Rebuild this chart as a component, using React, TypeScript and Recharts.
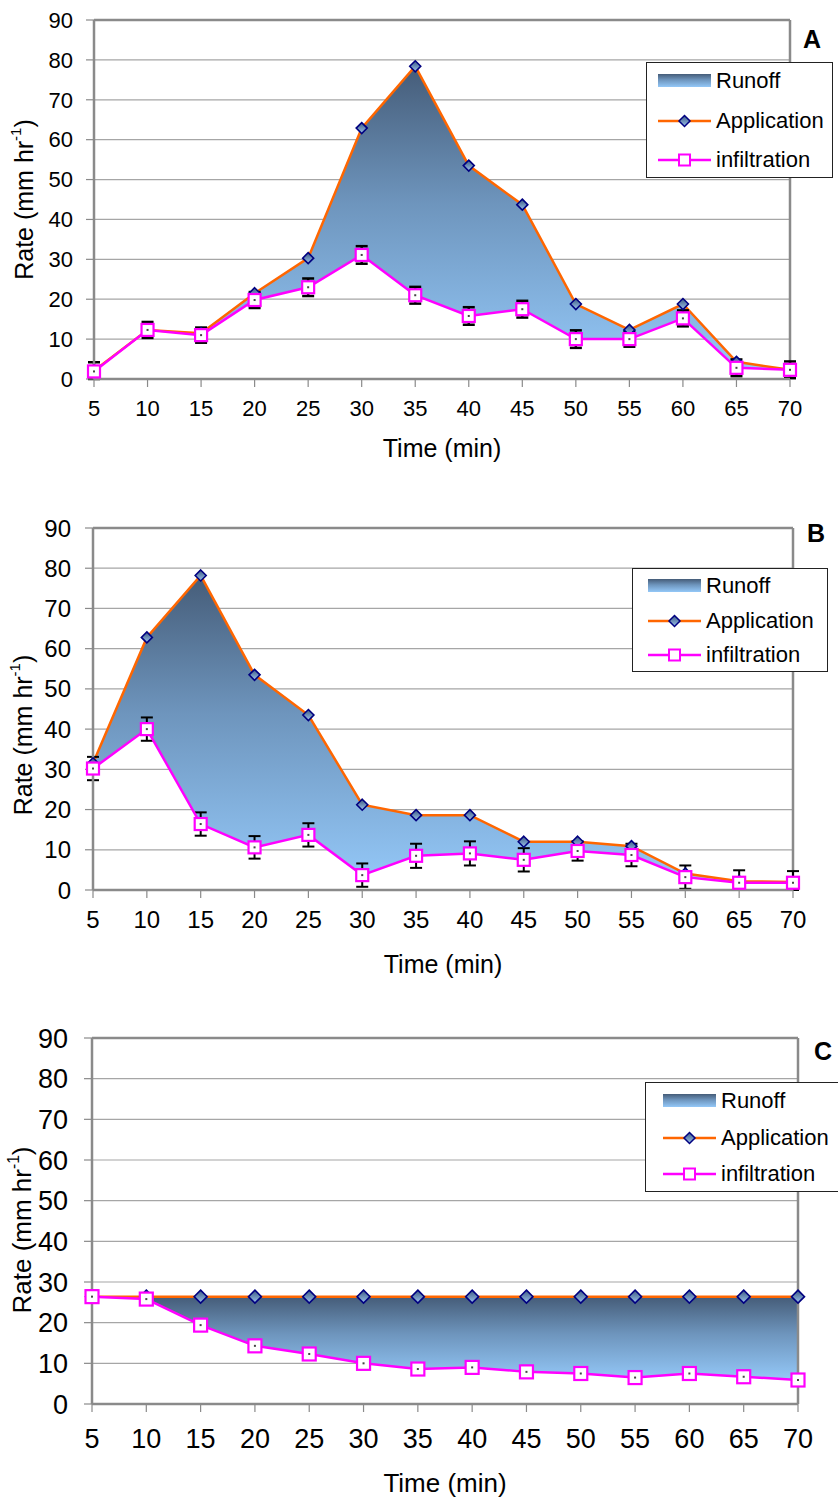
import React from 'react'
import {
  Area,
  CartesianGrid,
  ComposedChart,
  ErrorBar,
  Line,
  ReferenceLine,
  XAxis,
  YAxis,
} from 'recharts'

const FONT = '"Liberation Sans", Arial, Helvetica, sans-serif'

const times = [5, 10, 15, 20, 25, 30, 35, 40, 45, 50, 55, 60, 65, 70]
const yTicks = [0, 10, 20, 30, 40, 50, 60, 70, 80, 90]

// panel A
const applicationA = [2.1, 12.3, 11.5, 21.5, 30.3, 62.9, 78.4, 53.5, 43.7, 18.8, 12.3, 18.8, 4.3, 2.3]
const infiltrationA = [1.9, 12.3, 11.0, 19.8, 23.0, 31.1, 21.0, 15.8, 17.5, 10.0, 10.0, 15.2, 2.8, 2.3]
const errorA = [2.3, 2.0, 1.9, 2.0, 2.2, 2.2, 2.1, 2.2, 2.1, 2.2, 1.9, 2.0, 2.1, 2.1]

// panel B
const applicationB = [31.5, 62.8, 78.2, 53.5, 43.5, 21.2, 18.6, 18.6, 12.0, 12.0, 10.9, 4.1, 2.2, 2.0]
const infiltrationB = [30.2, 40.0, 16.4, 10.6, 13.7, 3.7, 8.5, 9.1, 7.5, 9.7, 8.7, 3.2, 1.8, 1.8]
const errorB = [2.9, 2.9, 2.9, 2.8, 2.9, 2.9, 3.0, 3.0, 2.9, 2.4, 2.8, 2.9, 3.1, 2.9]

// panel C
const applicationC = [26.4, 26.4, 26.4, 26.4, 26.4, 26.4, 26.4, 26.4, 26.4, 26.4, 26.4, 26.4, 26.4, 26.4]
const infiltrationC = [26.4, 25.8, 19.4, 14.3, 12.3, 10.0, 8.6, 9.0, 7.9, 7.5, 6.5, 7.5, 6.7, 5.9]
const errorC = [1.4, 1.4, 1.4, 1.4, 1.4, 1.4, 1.4, 1.4, 1.4, 1.4, 1.4, 1.4, 1.4, 1.4]

const ORANGE = '#ff6600'
const MAGENTA = '#ff00ff'
const GRID = '#a6a6a6'
const FRAME = '#8a8a8a'

type Panel = {
  id: string
  letter: string
  application: number[]
  infiltration: number[]
  error: number[]
  top: number
  height: number
  margin: { top: number; right: number; bottom: number; left: number }
  yAxisWidth: number
  tickFont: number
  yTickMargin: number
  xTickMargin: number
  titleFont: number
  xTitleDy: number
  yTitleX: number
  yTitleDy: number
  letterX: number
  letterY: number
  diamond: number
  square: number
  errWidth: number
  legend: {
    left: number
    top: number
    width: number
    height: number
    rows: number[]
    swatch: number
    text: number
  }
}

const panels: Panel[] = [
  {
    id: 'a',
    letter: 'A',
    application: applicationA,
    infiltration: infiltrationA,
    error: errorA,
    top: 0,
    height: 470,
    margin: { top: 20, right: 48, bottom: 31, left: 0 },
    yAxisWidth: 94,
    tickFont: 22,
    yTickMargin: 13,
    xTickMargin: 13,
    titleFont: 25,
    xTitleDy: 78,
    yTitleX: 24,
    yTitleDy: 0,
    letterX: 812,
    letterY: 48,
    diamond: 5.5,
    square: 12,
    errWidth: 2.5,
    legend: { left: 646, top: 62, width: 187, height: 116, rows: [18, 58, 97], swatch: 11, text: 69 },
  },
  {
    id: 'b',
    letter: 'B',
    application: applicationB,
    infiltration: infiltrationB,
    error: errorB,
    top: 490,
    height: 500,
    margin: { top: 38, right: 45, bottom: 40, left: 0 },
    yAxisWidth: 93,
    tickFont: 24,
    yTickMargin: 14,
    xTickMargin: 13,
    titleFont: 25,
    xTitleDy: 83,
    yTitleX: 23,
    yTitleDy: 26,
    letterX: 816,
    letterY: 542,
    diamond: 5.5,
    square: 12,
    errWidth: 2,
    legend: { left: 632, top: 568, width: 196, height: 104, rows: [17, 52, 86], swatch: 15, text: 73 },
  },
  {
    id: 'c',
    letter: 'C',
    application: applicationC,
    infiltration: infiltrationC,
    error: errorC,
    top: 1000,
    height: 500,
    margin: { top: 38, right: 40, bottom: 36, left: 0 },
    yAxisWidth: 92,
    tickFont: 27,
    yTickMargin: 16,
    xTickMargin: 17,
    titleFont: 26,
    xTitleDy: 88,
    yTitleX: 22,
    yTitleDy: 9,
    letterX: 823,
    letterY: 1060,
    diamond: 6.5,
    square: 13,
    errWidth: 2.5,
    legend: { left: 645, top: 1082, width: 200, height: 110, rows: [18, 55, 91], swatch: 17, text: 75 },
  },
]

function RunoffGradient({ id }: { id: string }) {
  return (
    <linearGradient id={id} x1="0" y1="0" x2="0" y2="1">
      <stop offset="0%" stopColor="#455c78" />
      <stop offset="45%" stopColor="#6e95bd" />
      <stop offset="100%" stopColor="#94c8f8" />
    </linearGradient>
  )
}

function DiamondGradient({ id }: { id: string }) {
  return (
    <linearGradient id={id} x1="0" y1="0" x2="0" y2="1">
      <stop offset="0%" stopColor="#3c5a84" />
      <stop offset="100%" stopColor="#9cc3ec" />
    </linearGradient>
  )
}

function Legend({ p }: { p: Panel }) {
  const lg = p.legend
  const rowStyle = (y: number): React.CSSProperties => ({
    position: 'absolute',
    left: 0,
    top: y - 14,
    height: 28,
    width: '100%',
  })
  return (
    <div
      style={{
        position: 'absolute',
        left: lg.left,
        top: lg.top - p.top,
        width: lg.width,
        height: lg.height,
        border: '1.5px solid #222',
        background: '#fff',
        boxSizing: 'border-box',
        fontFamily: FONT,
        fontSize: 22,
        color: '#000',
      }}
    >
      <div style={rowStyle(lg.rows[0])}>
        <svg width={54} height={28} style={{ position: 'absolute', left: lg.swatch, top: 0 }}>
          <defs>
            <RunoffGradient id={`leg-run-${p.id}`} />
          </defs>
          <rect x={0} y={7} width={53} height={13} fill={`url(#leg-run-${p.id})`} />
        </svg>
        <span style={{ position: 'absolute', left: lg.text, top: 0, lineHeight: '28px' }}>Runoff</span>
      </div>
      <div style={rowStyle(lg.rows[1])}>
        <svg width={54} height={28} style={{ position: 'absolute', left: lg.swatch, top: 0 }}>
          <defs>
            <DiamondGradient id={`leg-dia-${p.id}`} />
          </defs>
          <line x1={0} y1={14} x2={53} y2={14} stroke={ORANGE} strokeWidth={2.5} />
          <polygon
            points="26.5,8.5 32,14 26.5,19.5 21,14"
            fill={`url(#leg-dia-${p.id})`}
            stroke="#000080"
            strokeWidth={1.5}
          />
        </svg>
        <span style={{ position: 'absolute', left: lg.text, top: 0, lineHeight: '28px' }}>Application</span>
      </div>
      <div style={rowStyle(lg.rows[2])}>
        <svg width={54} height={28} style={{ position: 'absolute', left: lg.swatch, top: 0 }}>
          <line x1={0} y1={14} x2={53} y2={14} stroke={MAGENTA} strokeWidth={2.5} />
          <rect x={21} y={8.5} width={11} height={11} fill="#fff" stroke={MAGENTA} strokeWidth={2} />
        </svg>
        <span style={{ position: 'absolute', left: lg.text, top: 0, lineHeight: '28px' }}>infiltration</span>
      </div>
    </div>
  )
}

function ChartPanel({ p }: { p: Panel }) {
  // lower whisker stops at the x axis, as in the original figure
  const data = times.map((t, i) => ({
    t,
    application: p.application[i],
    infiltration: p.infiltration[i],
    err: [Math.min(p.error[i], p.infiltration[i]), p.error[i]],
    runoff: [p.infiltration[i], p.application[i]],
  }))

  const chartHeight = p.height
  const plotH = chartHeight - p.margin.top - p.margin.bottom - 60

  const renderDiamond = (props: any) => {
    const { cx, cy, index } = props
    if (cx == null || cy == null) return <g key={`dm-${index}`} />
    const r = p.diamond
    return (
      <polygon
        key={`dm-${index}`}
        points={`${cx},${cy - r} ${cx + r},${cy} ${cx},${cy + r} ${cx - r},${cy}`}
        fill={`url(#dia-${p.id})`}
        stroke="#000080"
        strokeWidth={1.6}
      />
    )
  }

  const renderSquare = (props: any) => {
    const { cx, cy, index } = props
    if (cx == null || cy == null) return <g key={`sq-${index}`} />
    const s = p.square
    return (
      <g key={`sq-${index}`}>
        <rect x={cx - s / 2} y={cy - s / 2} width={s} height={s} fill="#fff" stroke={MAGENTA} strokeWidth={2.2} />
        <rect x={cx - 1} y={cy - 1} width={2} height={2} fill="#444" />
      </g>
    )
  }

  const xTitle = (props: any) => {
    const vb = props.viewBox || {}
    const x = (vb.x ?? p.yAxisWidth) + (vb.width ?? 0) / 2
    const y = (vb.y ?? p.margin.top + plotH) + p.xTitleDy
    return (
      <text x={x} y={y} textAnchor="middle" fontSize={p.titleFont} fontFamily={FONT} fill="#000">
        Time (min)
      </text>
    )
  }

  const yTitle = (props: any) => {
    const vb = props.viewBox || {}
    const cx = p.yTitleX
    const cy = (vb.y ?? p.margin.top) + (vb.height ?? plotH) / 2 + p.yTitleDy
    return (
      <text
        x={cx}
        y={cy}
        transform={`rotate(-90, ${cx}, ${cy})`}
        textAnchor="middle"
        dominantBaseline="central"
        fontSize={p.titleFont}
        fontFamily={FONT}
        fill="#000"
      >
        Rate (mm hr
        <tspan dy={-9} fontSize={p.titleFont * 0.6}>
          -1
        </tspan>
        <tspan dy={9}>)</tspan>
      </text>
    )
  }

  return (
    <div style={{ position: 'absolute', left: 0, top: p.top, width: 838, height: chartHeight }}>
      <ComposedChart width={838} height={chartHeight} data={data} margin={p.margin}>
        <defs>
          <RunoffGradient id={`run-${p.id}`} />
          <DiamondGradient id={`dia-${p.id}`} />
        </defs>
        <CartesianGrid horizontal vertical={false} stroke={GRID} strokeWidth={1.2} />
        <XAxis
          dataKey="t"
          type="number"
          domain={[5, 70]}
          ticks={times}
          interval={0}
          height={60}
          tickSize={8}
          tickMargin={p.xTickMargin}
          tick={{ fontSize: p.tickFont, fill: '#000', fontFamily: FONT }}
          axisLine={{ stroke: FRAME, strokeWidth: 2.5 }}
          tickLine={{ stroke: FRAME, strokeWidth: 1.2 }}
          label={{ content: xTitle }}
        />
        <YAxis
          type="number"
          domain={[0, 90]}
          ticks={yTicks}
          interval={0}
          width={p.yAxisWidth}
          tickSize={8}
          tickMargin={p.yTickMargin}
          tick={{ fontSize: p.tickFont, fill: '#000', fontFamily: FONT }}
          axisLine={{ stroke: FRAME, strokeWidth: 2.5 }}
          tickLine={{ stroke: FRAME, strokeWidth: 1.2 }}
          label={{ content: yTitle }}
        />
        <ReferenceLine y={90} stroke={FRAME} strokeWidth={2.5} />
        <ReferenceLine x={70} stroke={FRAME} strokeWidth={2.5} />
        <Area
          type="linear"
          dataKey="runoff"
          stroke="none"
          fill={`url(#run-${p.id})`}
          fillOpacity={1}
          isAnimationActive={false}
          dot={false}
          activeDot={false}
        />
        <Line
          type="linear"
          dataKey="application"
          stroke={ORANGE}
          strokeWidth={2.5}
          dot={renderDiamond}
          activeDot={false}
          isAnimationActive={false}
        />
        <Line
          type="linear"
          dataKey="infiltration"
          stroke={MAGENTA}
          strokeWidth={2.5}
          dot={renderSquare}
          activeDot={false}
          isAnimationActive={false}
        >
          <ErrorBar dataKey="err" width={6} strokeWidth={p.errWidth} stroke="#000" direction="y" />
        </Line>
      </ComposedChart>
      <div
        style={{
          position: 'absolute',
          left: p.letterX - 20,
          width: 40,
          top: p.letterY - p.top - 24,
          textAlign: 'center',
          fontFamily: FONT,
          fontWeight: 700,
          fontSize: 25,
          lineHeight: '30px',
          color: '#000',
        }}
      >
        {p.letter}
      </div>
      <Legend p={p} />
    </div>
  )
}

export default function App() {
  return (
    <div
      style={{
        position: 'absolute',
        left: 0,
        top: 0,
        width: 838,
        height: 1500,
        background: '#fff',
        overflow: 'hidden',
      }}
    >
      {panels.map((p) => (
        <ChartPanel key={p.id} p={p} />
      ))}
    </div>
  )
}
